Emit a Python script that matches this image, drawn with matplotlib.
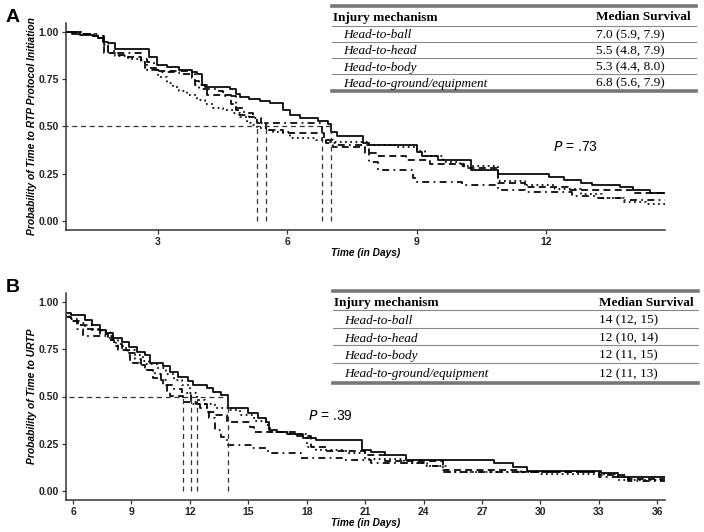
import matplotlib
matplotlib.use("Agg")
import matplotlib.pyplot as plt
from matplotlib.lines import Line2D

# ---- data: Kaplan-Meier step curves (time, survival) ----
groups = ["Head-to-ball", "Head-to-head", "Head-to-body", "Head-to-ground/equipment"]

a_ball_t = [0, 1.0, 1.2, 1.5, 1.6, 1.73, 1.85, 2.0, 2.79, 2.98, 3.2, 3.5, 3.8, 3.9, 4.02, 4.1, 4.67, 4.8, 4.9, 5.1,
            5.36, 5.6, 5.9, 6.05, 6.3, 6.7, 6.94, 7.0, 7.14, 7.75, 7.9, 9.0, 9.13, 9.5, 10.25, 10.87, 12.07, 12.4,
            12.8, 13.05, 13.7, 14.0, 14.4, 14.75]
a_ball_s = [1.0, .99, .985, .98, .97, .95, .94, .91, .87, .825, .815, .80, .79, .78, .72, .71, .70, .67, .656, .645,
            .636, .625, .587, .56, .545, .53, .515, .47, .45, .41, .40, .365, .345, .32, .27, .249, .234, .217,
            .20, .19, .178, .164, .15, .15]

a_head_t = [0, 1.2, 1.5, 1.75, 2.0, 2.3, 2.6, 2.7, 3.0, 3.8, 3.85, 4.13, 4.7, 4.8, 4.85, 5.1, 5.3, 5.5, 5.9, 6.85,
            7.05, 7.8, 8.07, 8.75, 9.3, 10.1, 10.87, 11.5, 12.5, 14.0, 14.75]
a_head_s = [1.0, .99, .98, .89, .88, .87, .85, .81, .795, .755, .72, .667, .62, .587, .56, .55, .52, .48, .465, .43,
            .39, .36, .345, .32, .30, .28, .20, .18, .165, .148, .148]

a_body_t = [0, 1.2, 1.6, 1.75, 1.85, 2.0, 2.3, 2.6, 2.75, 3.0, 3.2, 3.35, 3.5, 3.67, 3.9, 4.1, 4.28, 4.5, 4.74, 4.9,
            5.06, 5.15, 5.3, 5.5, 5.67, 6.05, 6.67, 6.9, 7.9, 8.5, 9.0, 9.2, 9.6, 10.0, 10.87, 11.5, 12.2, 12.8,
            13.3, 13.8, 14.3, 14.75]
a_body_s = [1.0, .99, .98, .93, .89, .875, .86, .84, .80, .76, .73, .71, .69, .667, .64, .62, .60, .585, .57, .55,
            .52, .51, .49, .48, .47, .44, .43, .42, .40, .39, .37, .345, .31, .29, .21, .19, .17, .14,
            .12, .10, .09, .09]

a_grnd_t = [0, 1.3, 1.6, 1.75, 1.85, 2.0, 2.6, 2.75, 2.9, 3.1, 3.5, 3.85, 3.95, 4.35, 4.5, 4.8, 5.0, 5.2, 5.4, 6.8,
            6.9, 7.1, 7.9, 8.1, 8.9, 9.0, 10.05, 10.87, 11.5, 12.6, 13.2, 13.8, 14.75]
a_grnd_s = [1.0, .99, .97, .93, .90, .89, .86, .84, .80, .79, .78, .74, .70, .69, .66, .60, .57, .545, .52, .44,
            .41, .40, .31, .27, .228, .207, .19, .165, .155, .13, .12, .11, .11]

b_ball_t = [5, 5.9, 6.6, 6.98, 7.4, 7.7, 8.06, 8.5, 8.9, 9.3, 9.7, 9.96, 10.6, 11.0, 11.4, 11.9, 12.15, 12.9, 13.2,
            13.6, 13.95, 15.0, 15.5, 15.9, 16.05, 16.5, 17.0, 17.8, 18.5, 20.86, 21.3, 22.0, 23.1, 27.6, 28.6,
            29.3, 33.1, 34.0, 36.4]
b_ball_s = [.943, .93, .905, .88, .85, .835, .81, .79, .76, .735, .72, .675, .66, .63, .605, .58, .56, .545, .525,
            .51, .44, .41, .385, .367, .32, .31, .30, .28, .27, .217, .206, .19, .164, .148, .127,
            .106, .095, .074, .074]

b_head_t = [5, 5.9, 6.3, 6.6, 7.0, 7.4, 7.8, 8.1, 8.3, 8.8, 8.95, 9.4, 9.7, 10.1, 10.35, 10.6, 10.85, 11.0, 11.64,
            12.3, 12.9, 13.3, 13.9, 15.1, 15.3, 17.5, 18.2, 19.0, 21.0, 22.0, 25.0, 29.0, 33.0, 34.5, 36.4]
b_head_s = [.92, .90, .88, .86, .85, .83, .80, .77, .745, .72, .68, .665, .64, .60, .585, .56, .53, .505, .47,
            .46, .42, .40, .365, .34, .31, .29, .23, .21, .19, .16, .11, .10, .085, .065, .065]

b_body_t = [5, 5.8, 6.2, 6.6, 7.0, 7.5, 7.9, 8.3, 8.7, 9.2, 9.6, 9.9, 10.3, 10.8, 11.2, 11.6, 12.0, 12.37, 12.8,
            13.3, 14.0, 14.6, 15.3, 15.9, 16.1, 17.0, 18.0, 18.5, 20.0, 21.0, 23.0, 24.2, 25.2, 30.0, 34.0, 36.4]
b_body_s = [.93, .91, .89, .88, .86, .84, .80, .77, .745, .72, .69, .67, .65, .62, .59, .56, .52, .48, .46,
            .44, .43, .40, .37, .35, .31, .30, .23, .217, .20, .17, .15, .13, .10, .09, .06, .06]

b_grnd_t = [5, 5.9, 6.2, 6.5, 8.0, 8.2, 8.5, 8.9, 9.2, 9.5, 9.8, 10.2, 10.5, 10.8, 11.2, 11.6, 12.05, 12.5, 13.0,
            13.3, 13.6, 13.9, 15.2, 16.0, 17.7, 19.9, 21.3, 24.0, 25.0, 33.0, 34.5, 36.4]
b_grnd_s = [.92, .90, .86, .82, .80, .78, .745, .73, .70, .67, .64, .62, .59, .56, .54, .52, .46, .44, .385,
            .32, .285, .243, .228, .20, .175, .164, .15, .13, .10, .075, .05, .05]

a_median_txt = ["7.0 (5.9, 7.9)", "5.5 (4.8, 7.9)", "5.3 (4.4, 8.0)", "6.8 (5.6, 7.9)"]
b_median_txt = ["14 (12, 15)", "12 (10, 14)", "12 (11, 15)", "12 (11, 13)"]
a_pval = ".73"
b_pval = ".39"
a_xticks = [3, 6, 9, 12]
b_xticks = [6, 9, 12, 15, 18, 21, 24, 27, 30, 33, 36]
yticks = [0.0, 0.25, 0.5, 0.75, 1.0]

# ---- styling ----
W, H = 704, 532
SANS = ["Liberation Sans", "DejaVu Sans"]
SERIF = ["Liberation Serif", "DejaVu Serif"]
styles = ["-", (0, (4, 2.5)), (0, (1, 2)), (0, (1, 2.5, 4, 2.5))]
axcol = "#333333"

fig = plt.figure(figsize=(W / 100, H / 100), dpi=100)


def px(x0, y0, x1, y1):
    return [x0 / W, 1 - y1 / H, (x1 - x0) / W, (y1 - y0) / H]


def median(t, s):
    for ti, si in zip(t, s):
        if si < 0.5:
            return ti
    return None


def panel(rect, curves, xlim, xticks, ylabel, pval, ppos):
    ax = fig.add_axes(rect)
    for (t, s), ls in zip(curves, styles):
        ax.plot(t, s, drawstyle="steps-post", color="black", lw=1.25, linestyle=ls)
    meds = [median(t, s) for t, s in curves]
    ax.plot([0, max(meds)], [0.5, 0.5], color="#333333", lw=0.9, linestyle=(0, (4, 3)))
    for m in meds:
        ax.plot([m, m], [0, 0.5], color="#333333", lw=0.9, linestyle=(0, (4, 3)))
    ax.set_xlim(*xlim)
    ax.set_ylim(-0.048, 1.048)
    ax.set_xticks(xticks)
    ax.set_yticks(yticks)
    ax.set_yticklabels(["%.2f" % v for v in yticks])
    for sp in ["top", "right"]:
        ax.spines[sp].set_visible(False)
    for sp in ["left", "bottom"]:
        ax.spines[sp].set_color(axcol)
        ax.spines[sp].set_linewidth(1.1)
    ax.tick_params(colors=axcol, length=3, width=0.9, pad=2)
    for lab in ax.get_xticklabels() + ax.get_yticklabels():
        lab.set_fontfamily(SANS)
        lab.set_fontweight("bold")
        lab.set_fontsize(7.5)
        lab.set_color("#222222")
    ax.set_xlabel("Time (in Days)", fontfamily=SANS, fontsize=7.3, fontweight="bold", style="italic", labelpad=0.5)
    ax.set_ylabel(ylabel, fontfamily=SANS, fontsize=7.4, fontweight="bold", style="italic", labelpad=1)
    ax.text(ppos[0], ppos[1], "$P$ = " + pval, transform=ax.transAxes, fontfamily=SANS, fontsize=10,
            ha="left", va="center")
    return ax


def table(x0, x1, xval, ys, lines, medtxt):
    # ys: header, row1..row4 ; lines: top, header-line, 3 row lines, bottom
    fig.add_artist(Line2D([x0 / W, x1 / W], [1 - lines[0] / H] * 2, color="#777777", lw=2.6))
    fig.add_artist(Line2D([x0 / W, x1 / W], [1 - lines[-1] / H] * 2, color="#777777", lw=2.6))
    for ly in lines[1:-1]:
        fig.add_artist(Line2D([x0 / W, x1 / W], [1 - ly / H] * 2, color="#888888", lw=0.8))
    fig.text((x0 + 1) / W, 1 - ys[0] / H, "Injury mechanism", fontfamily=SERIF, fontsize=9.5,
             fontweight="bold", va="center_baseline")
    fig.text(xval / W, 1 - ys[0] / H, "Median Survival", fontfamily=SERIF, fontsize=9.5,
             fontweight="bold", va="center_baseline")
    for g, m, y in zip(groups, medtxt, ys[1:]):
        fig.text((x0 + 11) / W, 1 - y / H, g, fontfamily=SERIF, fontsize=9.5, style="italic",
                 va="center_baseline")
        fig.text(xval / W, 1 - y / H, m, fontfamily=SERIF, fontsize=9.5, va="center_baseline")


axA = panel(px(66, 23, 665, 230),
            [(a_ball_t, a_ball_s), (a_head_t, a_head_s), (a_body_t, a_body_s), (a_grnd_t, a_grnd_s)],
            (0.87, 14.75), a_xticks, "Probability of Time to RTP Protocol Initiation", a_pval,
            ((553 - 66) / 599, 1 - (147 - 23) / 207))
axB = panel(px(66, 293, 665, 500),
            [(b_ball_t, b_ball_s), (b_head_t, b_head_s), (b_body_t, b_body_s), (b_grnd_t, b_grnd_s)],
            (5.64, 36.4), b_xticks, "Probability of Time to URTP", b_pval,
            ((308 - 66) / 599, 1 - (416 - 293) / 207))

table(332, 696, 596, [16, 34, 50, 66, 82], [6, 25.5, 42, 58, 74, 91], a_median_txt)
table(333, 698, 599, [301.5, 319, 337, 354, 372.5], [290.5, 310, 327.5, 345, 363, 383], b_median_txt)

fig.text(13 / W, 1 - 18 / H, "A", fontfamily=SANS, fontsize=14, fontweight="bold", ha="center", va="center")
fig.text(13 / W, 1 - 288 / H, "B", fontfamily=SANS, fontsize=14, fontweight="bold", ha="center", va="center")

fig.savefig("out.png", dpi=100, facecolor="white")
